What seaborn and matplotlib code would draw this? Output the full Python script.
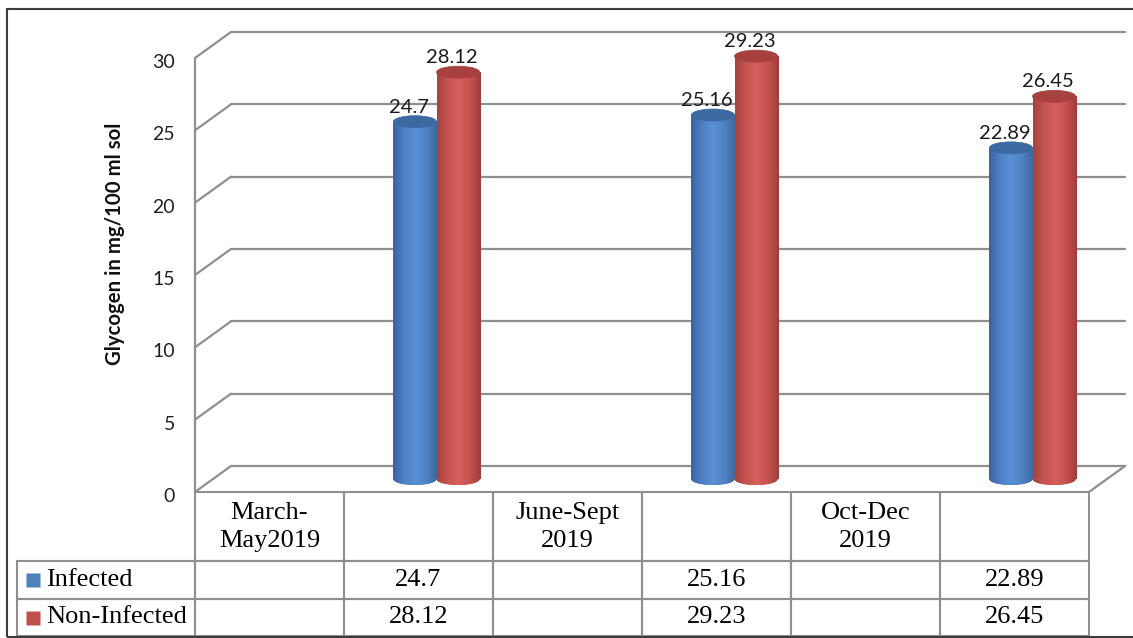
import numpy as np
import pandas as pd
import matplotlib
matplotlib.use("Agg")
import matplotlib.pyplot as plt
import matplotlib.transforms as mtrans
import matplotlib.colors as mcolors
from matplotlib.colors import LinearSegmentedColormap
from matplotlib.patches import Ellipse, Rectangle
import seaborn as sns

# data
slots = ["c1", "c2", "c3", "c4", "c5", "c6"]
slot_labels = ["March-\nMay2019", "", "June-Sept\n2019", "", "Oct-Dec\n2019", ""]
value_slots = ["c2", "c4", "c6"]
infected = [24.7, 25.16, 22.89]
non_infected = [28.12, 29.23, 26.45]
series_names = ["Infected", "Non-Infected"]
y_ticks = [0, 5, 10, 15, 20, 25, 30]
y_label = "Glycogen in mg/100 ml sol"

df = pd.DataFrame({
    "slot": value_slots * 2,
    "glycogen": infected + non_infected,
    "group": [series_names[0]] * 3 + [series_names[1]] * 3,
})

blue, red = "#4f81bd", "#c0504d"
body_cmaps = {
    "Infected": LinearSegmentedColormap.from_list(
        "b", ["#3863a0", "#4d80c5", "#5b90d5", "#5083c4", "#3d68a0"]),
    "Non-Infected": LinearSegmentedColormap.from_list(
        "r", ["#a6423f", "#c65450", "#d5605c", "#c4524f", "#9e3d3a"]),
}
top_colors = {"Infected": "#3d69a1", "Non-Infected": "#a7413e"}
grid_col = "#8f8f8f"

sns.set_style("white")
plt.rcParams["font.family"] = ["Lato", "DejaVu Sans"]

W, H = 1133, 638
fig = plt.figure(figsize=(W / 100, H / 100), dpi=100)
ax = fig.add_axes([195 / W, (H - 492) / H, 894 / W, 434 / H])

sns.barplot(data=df, x="slot", y="glycogen", hue="group", order=slots,
            hue_order=series_names, palette=[blue, red], width=0.58,
            saturation=1, errorbar=None, legend=False, ax=ax)
bars = [p for p in ax.patches if np.isfinite(p.get_height()) and p.get_height() > 0]

ax.set_xlim(-0.5, 5.5)
ax.set_ylim(0, 30)

# depth offsets of the fake 3d box
mid = mtrans.ScaledTranslation(0.18, 0.13, fig.dpi_scale_trans)
back = mtrans.ScaledTranslation(0.36, 0.26, fig.dpi_scale_trans)

# back wall gridlines + left wall diagonals
for t in y_ticks:
    ax.plot([-0.5, 5.5], [t, t], transform=ax.transData + back, color=grid_col,
            lw=1.6, clip_on=False, zorder=1)
    diag = fig.dpi_scale_trans + mtrans.ScaledTranslation(-0.5, t, ax.transData)
    ax.plot([0, 0.36], [0, 0.26], transform=diag, color=grid_col, lw=1.6,
            clip_on=False, zorder=1)
diag_r = fig.dpi_scale_trans + mtrans.ScaledTranslation(5.5, 0, ax.transData)
ax.plot([0, 0.36], [0, 0.26], transform=diag_r, color=grid_col, lw=1.6,
        clip_on=False, zorder=1)
ax.plot([-0.5, -0.5], [0, 30], color=grid_col, lw=1.6, clip_on=False, zorder=1)

# cylinders
eh = 12 / (434 / 30)
grad = np.linspace(0, 1, 256).reshape(1, -1)
for p in bars:
    grp = series_names[0] if mcolors.same_color(p.get_facecolor(), blue) else series_names[1]
    z = 3 if grp == series_names[0] else 4
    x0, w, h = p.get_x(), p.get_width(), p.get_height()
    xc = x0 + w / 2
    tr = ax.transData + mid

    e0 = Ellipse((xc, 0), w, eh, facecolor=top_colors[grp], edgecolor="none", zorder=z)
    ax.add_patch(e0)
    e0.set_transform(tr)
    e0.set_clip_on(False)
    im0 = ax.imshow(grad, cmap=body_cmaps[grp], extent=(x0, x0 + w, -eh, eh),
                    aspect="auto", transform=tr, zorder=z + 0.01, interpolation="bilinear")
    im0.set_clip_path(e0)

    p.set_transform(tr)
    p.set_clip_on(False)
    p.set_edgecolor("none")
    p.set_zorder(z + 0.02)
    im = ax.imshow(grad, cmap=body_cmaps[grp], extent=(x0, x0 + w, 0, h),
                   aspect="auto", transform=tr, zorder=z + 0.03, interpolation="bilinear")
    im.set_clip_path(p)

    e1 = Ellipse((xc, h), w, eh, facecolor=top_colors[grp],
                 edgecolor=top_colors[grp], lw=0.5, zorder=z + 0.04)
    ax.add_patch(e1)
    e1.set_transform(tr)
    e1.set_clip_on(False)

    ax.text(xc, h + eh / 2, f"{h:g}",
            transform=tr + mtrans.ScaledTranslation(-0.06, 0.03, fig.dpi_scale_trans),
            ha="center", va="baseline", fontsize=14.5, color="#1a1a1a",
            zorder=10, clip_on=False)

ax.set_xlim(-0.5, 5.5)
ax.set_ylim(0, 30)

# axis cosmetics
ax.set_xticks([])
ax.set_xlabel("")
ax.set_ylabel("")
ax.set_yticks(y_ticks)
ax.set_yticklabels([str(t) for t in y_ticks])
ax.tick_params(axis="y", length=0, pad=14.4, labelsize=14, labelcolor="#222222")
for lab in ax.get_yticklabels():
    lab.set_transform(lab.get_transform() + mtrans.ScaledTranslation(0, -0.03, fig.dpi_scale_trans))
for s in ax.spines.values():
    s.set_visible(False)
ax.patch.set_alpha(0)

fig.text(115 / W, 1 - 244 / H, y_label, rotation=90, ha="center", va="center",
         fontsize=14.7, fontweight="bold", color="#111111")

# data table under the plot
inf_map = dict(zip(value_slots, infected))
non_map = dict(zip(value_slots, non_infected))
cells = [
    [""] + slot_labels,
    [series_names[0]] + [f"{inf_map[s]:g}" if s in inf_map else "" for s in slots],
    [series_names[1]] + [f"{non_map[s]:g}" if s in non_map else "" for s in slots],
]
row_h = [69 / 434, 37 / 434, 37 / 434]
tbl = ax.table(cellText=cells, colWidths=[178 / 894] + [149 / 894] * 6,
               cellLoc="center", bbox=[(17 - 195) / 894, -144 / 434, 1072 / 894, 144 / 434])
tbl.auto_set_font_size(False)
for (r, c), cell in tbl.get_celld().items():
    cell.set_edgecolor(grid_col)
    cell.set_linewidth(1.5)
    cell.set_facecolor("none")
    cell.set_height(row_h[r])
    txt = cell.get_text()
    txt.set_fontfamily("Liberation Serif")
    txt.set_fontsize(19)
    txt.set_color("black")
    if r == 0:
        txt.set_linespacing(1.37)
    if c == 0 and r > 0:
        txt.set_ha("left")
        cell.PAD = 0.163
tbl[0, 0].visible_edges = "open"

for col, yc in zip([blue, red], [580, 618]):
    ax.plot([32.5 / W], [1 - yc / H], marker="s", ms=9.5, color=col, mec="none",
            transform=fig.transFigure, clip_on=False)

# outer frame (right edge falls outside the picture)
fig.add_artist(Rectangle((7 / W, 1 / H), 1140 / W, 628 / H, transform=fig.transFigure,
                         fill=False, edgecolor="#3c3c3c", lw=1.5))

fig.savefig("out.png", dpi=100)
